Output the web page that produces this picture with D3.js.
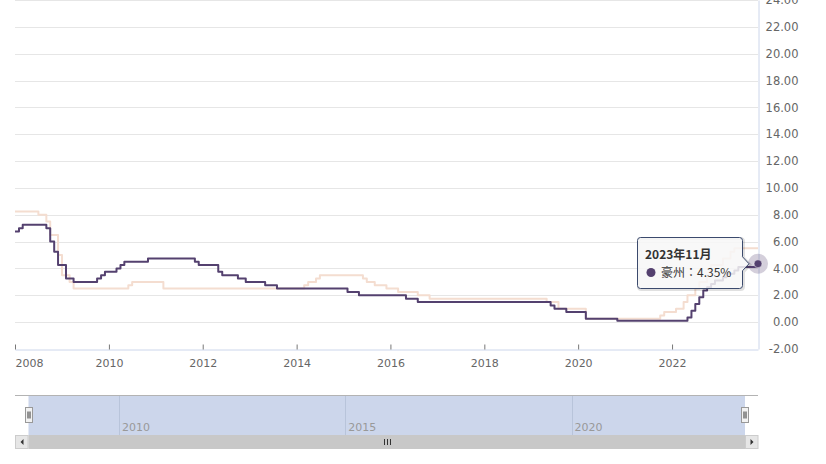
<!DOCTYPE html>
<html><head><meta charset="utf-8">
<script src="https://cdn.jsdelivr.net/npm/d3@7"></script>
<style>body{margin:0;background:#fff}svg{display:block}</style>
</head><body><svg id="c" width="826" height="464"></svg>
<script>
// Australia (豪州) policy rate – month of change and new rate
const ausMonths = ["2008-01","2008-02","2008-03","2008-09","2008-10","2008-11","2008-12","2009-02","2009-04","2009-10","2009-11","2009-12","2010-03","2010-04","2010-05","2010-11","2011-11","2011-12","2012-05","2012-06","2012-10","2012-12","2013-05","2013-08","2015-02","2015-05","2016-05","2016-08","2019-06","2019-07","2019-10","2020-03","2020-11","2022-05","2022-06","2022-07","2022-08","2022-09","2022-10","2022-11","2022-12","2023-02","2023-03","2023-05","2023-06","2023-11"];
const ausRates  = [6.75,7.00,7.25,7.00,6.00,5.25,4.25,3.25,3.00,3.25,3.50,3.75,4.00,4.25,4.50,4.75,4.50,4.25,3.75,3.50,3.25,3.00,2.75,2.50,2.25,2.00,1.75,1.50,1.25,1.00,0.75,0.25,0.10,0.35,0.85,1.35,1.85,2.35,2.60,2.85,3.10,3.35,3.60,3.85,4.10,4.35];
// second (faded) series – month of change and new rate
const nzMonths = ["2008-01","2008-07","2008-09","2008-10","2008-12","2009-01","2009-03","2009-04","2010-06","2010-07","2011-03","2014-03","2014-04","2014-06","2014-07","2015-06","2015-07","2015-09","2015-12","2016-03","2016-08","2016-11","2019-05","2019-08","2020-03","2021-10","2021-11","2022-02","2022-04","2022-05","2022-07","2022-08","2022-10","2022-11","2023-02","2023-04","2023-05","2023-11"];
const nzRates  = [8.25,8.00,7.50,6.50,5.00,3.50,3.00,2.50,2.75,3.00,2.50,2.75,3.00,3.25,3.50,3.25,3.00,2.75,2.50,2.25,2.00,1.75,1.50,1.00,0.25,0.50,0.75,1.00,1.50,2.00,2.50,3.00,3.50,4.25,4.75,5.25,5.50,5.50];
const xTickYears = [2008,2010,2012,2014,2016,2018,2020,2022];
const navTickYears = [2010,2015,2020];
const yTicks = [-2,0,2,4,6,8,10,12,14,16,18,20,22,24];
const tooltipTitle = "2023年11月";
const seriesName = "豪州";
const startMonth = "2008-01", endMonth = "2023-11";

const parse = d3.timeParse("%Y-%m");
const aus = ausMonths.map((m,i)=>({date:parse(m), v:ausRates[i]}));
const nz = nzMonths.map((m,i)=>({date:parse(m), v:nzRates[i]}));

const svg = d3.select("#c");
const L=15, R=758, T=0, B=349;
const x = d3.scaleTime().domain([parse(startMonth), parse(endMonth)]).range([L,R]);
const y = d3.scaleLinear().domain([-2,24]).range([B,T]);
const font = "'DejaVu Sans', sans-serif";
const PURPLE = "#54416f";

// grid
svg.append("g").selectAll("line").data(yTicks.filter(d=>d>-2)).join("line")
  .attr("x1",L).attr("x2",R).attr("y1",d=>Math.round(y(d))+0.5).attr("y2",d=>Math.round(y(d))+0.5)
  .attr("stroke","#e6e6e6").attr("stroke-width",1);

// lines
const line = d3.line().x(d=>x(d.date)).y(d=>y(d.v)).curve(d3.curveStepAfter);
svg.append("path").datum(nz).attr("d",line).attr("fill","none")
  .attr("stroke","#f4ddd0").attr("stroke-width",2).attr("stroke-linejoin","round");
svg.append("path").datum(aus).attr("d",line).attr("fill","none")
  .attr("stroke",PURPLE).attr("stroke-width",2).attr("stroke-linejoin","round");

// x axis
const xAxis = d3.axisBottom(x).tickValues(xTickYears.map(yr=>new Date(yr,0,1)))
  .tickFormat(d3.timeFormat("%Y")).tickSizeInner(-5).tickSizeOuter(0).tickPadding(10);
const gx = svg.append("g").attr("transform",`translate(0,${B+0.5})`).call(xAxis);
gx.select(".domain").attr("stroke","#ccd6eb");
gx.selectAll(".tick line").attr("stroke","#777");
gx.selectAll(".tick text").attr("fill","#666").style("font-family",font).style("font-size","11px");
gx.selectAll(".tick text").filter((d,i)=>i===0).attr("text-anchor","start");

// y axis on right
const yAxis = d3.axisRight(y).tickValues(yTicks).tickFormat(d=>d.toFixed(2)).tickSize(0);
const gy = svg.append("g").attr("transform",`translate(${R+0.5},0)`).call(yAxis);
gy.select(".domain").attr("stroke","#ccd6eb");
gy.selectAll(".tick text").attr("x",40).attr("text-anchor","end").attr("fill","#666")
  .style("font-family",font).style("font-size","11.5px");

// navigator
const nx = d3.scaleTime().domain([parse(startMonth), parse(endMonth)]).range([28.5,745]);
const NT=395.5, NB=435;
svg.append("rect").attr("x",nx.range()[0]).attr("y",NT).attr("width",nx.range()[1]-nx.range()[0]).attr("height",NB-NT).attr("fill","#ccd6eb");
svg.append("g").selectAll("line").data(navTickYears).join("line")
  .attr("x1",d=>Math.round(nx(new Date(d,0,1)))+0.5).attr("x2",d=>Math.round(nx(new Date(d,0,1)))+0.5)
  .attr("y1",NT).attr("y2",NB).attr("stroke","#b8c4da");
svg.append("g").selectAll("text").data(navTickYears).join("text")
  .attr("x",d=>nx(new Date(d,0,1))+3).attr("y",431).text(d=>d)
  .attr("fill","#999").style("font-family",font).style("font-size","11px");
svg.append("line").attr("x1",L).attr("x2",R).attr("y1",NT).attr("y2",NT).attr("stroke","#b3b3b3");
// handles
[nx.range()[0], nx.range()[1]].forEach(hx=>{
  const g = svg.append("g").attr("transform",`translate(${Math.round(hx)-3.5},407.5)`);
  g.append("rect").attr("width",7).attr("height",15).attr("fill","#f2f2f2").attr("stroke","#999");
  g.append("line").attr("x1",2.5).attr("x2",2.5).attr("y1",4).attr("y2",11).attr("stroke","#333");
  g.append("line").attr("x1",4.5).attr("x2",4.5).attr("y1",4).attr("y2",11).attr("stroke","#333");
});
// scrollbar
const ST=435, SH=14;
svg.append("rect").attr("x",L).attr("y",ST).attr("width",R-L).attr("height",SH).attr("fill","#f2f2f2");
svg.append("rect").attr("x",nx.range()[0]).attr("y",ST).attr("width",nx.range()[1]-nx.range()[0]).attr("height",SH).attr("fill","#c8c8c8");
[[L, -1],[R-13, 1]].forEach(([bx,dir])=>{
  svg.append("rect").attr("x",bx+0.5).attr("y",ST+0.5).attr("width",12.5).attr("height",SH-1).attr("fill","#e6e6e6").attr("stroke","#ccc");
  const cx = bx+7, cy = ST+7;
  svg.append("path").attr("d", dir<0 ? `M${cx+1.5},${cy-3}L${cx+1.5},${cy+3}L${cx-1.5},${cy}Z` : `M${cx-1.5},${cy-3}L${cx-1.5},${cy+3}L${cx+1.5},${cy}Z`).attr("fill","#333");
});
const rc = Math.round((nx.range()[0]+nx.range()[1])/2);
[-3,0,3].forEach(o=>svg.append("line").attr("x1",rc+o+0.5).attr("x2",rc+o+0.5).attr("y1",ST+4).attr("y2",ST+10).attr("stroke","#333"));

// hover point
const last = aus[aus.length-1];
const px = x(last.date), py = y(last.v);
svg.append("circle").attr("cx",px).attr("cy",py).attr("r",10).attr("fill",PURPLE).attr("opacity",0.25);
svg.append("circle").attr("cx",px).attr("cy",py).attr("r",4).attr("fill",PURPLE).attr("stroke","#fff").attr("stroke-width",0.5);

// tooltip
const bx=637.5, by=237.5, bw=105, bh=51, r=3, tipX=749, tipY=py;
const tp = `M${bx+r},${by}H${bx+bw-r}Q${bx+bw},${by} ${bx+bw},${by+r}V${tipY-7}L${tipX},${tipY}L${bx+bw},${tipY+7}V${by+bh-r}Q${bx+bw},${by+bh} ${bx+bw-r},${by+bh}H${bx+r}Q${bx},${by+bh} ${bx},${by+bh-r}V${by+r}Q${bx},${by} ${bx+r},${by}Z`;
svg.append("path").attr("d",tp).attr("transform","translate(1,1)").attr("fill","none").attr("stroke","rgba(0,0,0,0.12)").attr("stroke-width",3);
svg.append("path").attr("d",tp).attr("fill","rgba(247,247,247,0.85)").attr("stroke","#3b4a6d").attr("stroke-width",1);
const tf = "'Noto Sans CJK JP','Noto Sans',sans-serif";
svg.append("text").attr("x",645).attr("y",258.5).text(tooltipTitle)
  .attr("fill","#333").style("font-family",tf).style("font-size","12px").style("font-weight","bold");
svg.append("circle").attr("cx",651).attr("cy",272.5).attr("r",4.5).attr("fill",PURPLE);
svg.append("text").attr("x",661).attr("y",277).text(`${seriesName}：${last.v.toFixed(2)}%`)
  .attr("fill","#333").style("font-family",tf).style("font-size","12px");
</script></body></html>
